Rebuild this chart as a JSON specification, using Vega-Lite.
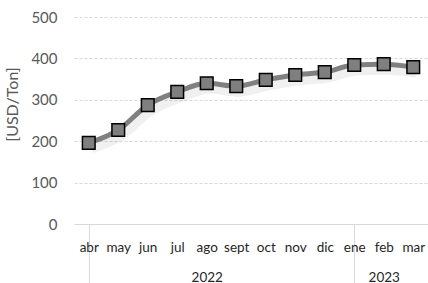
{
  "$schema": "https://vega.github.io/schema/vega-lite/v6.json",
  "width": 354,
  "height": 207,
  "autosize": {"type": "none"},
  "padding": {"left": 74, "top": 17, "right": 0, "bottom": 59},
  "background": "white",
  "config": {
    "view": {"stroke": null},
    "font": "Lato"
  },
  "data": {
    "values": [
      {"mes": "abr", "anio": "2022", "precio": 196},
      {"mes": "may", "anio": "2022", "precio": 227},
      {"mes": "jun", "anio": "2022", "precio": 287},
      {"mes": "jul", "anio": "2022", "precio": 319},
      {"mes": "ago", "anio": "2022", "precio": 340},
      {"mes": "sept", "anio": "2022", "precio": 333},
      {"mes": "oct", "anio": "2022", "precio": 348},
      {"mes": "nov", "anio": "2022", "precio": 360},
      {"mes": "dic", "anio": "2022", "precio": 367},
      {"mes": "ene", "anio": "2023", "precio": 384},
      {"mes": "feb", "anio": "2023", "precio": 386},
      {"mes": "mar", "anio": "2023", "precio": 379}
    ]
  },
  "encoding": {
    "x": {
      "field": "mes",
      "type": "nominal",
      "sort": null,
      "scale": {"paddingInner": 0, "paddingOuter": 0},
      "axis": {
        "title": null,
        "labelAngle": 0,
        "labelFont": "Lato",
        "labelFontSize": 13.5,
        "labelColor": "#262626",
        "labelOverlap": false,
        "labelLineHeight": 30,
        "labelExpr": "datum.value == 'ago' ? ['ago', '2022'] : datum.value == 'feb' ? ['feb', '2023'] : datum.value",
        "bandPosition": 0,
        "tickSize": 59,
        "tickWidth": 1,
        "tickColor": {"condition": {"test": "datum.value == 'abr' || datum.value == 'ene'", "value": "#d9d9d9"}, "value": "transparent"},
        "labelPadding": -43,
        "domainColor": "#d9d9d9",
        "domainWidth": 1,
        "grid": false
      }
    },
    "y": {
      "field": "precio",
      "type": "quantitative",
      "scale": {"domain": [0, 500], "nice": false, "zero": true},
      "axis": {
        "title": "[USD/Ton]",
        "titleFont": "Lato",
        "titleFontSize": 16,
        "titleFontWeight": "normal",
        "titleColor": "#595959",
        "titleAngle": -90,
        "titleAlign": "center",
        "titleBaseline": "middle",
        "titleX": -62,
        "titleY": 87,
        "values": [0, 100, 200, 300, 400, 500],
        "labelFont": "Lato",
        "labelFontSize": 15,
        "labelColor": "#595959",
        "labelPadding": 17,
        "ticks": false,
        "domain": false,
        "grid": true,
        "gridColor": {"condition": {"test": "datum.value == 0", "value": "transparent"}, "value": "#d9d9d9"},
        "gridDash": [3, 2],
        "gridWidth": 1
      }
    }
  },
  "layer": [
    {
      "mark": {"type": "line", "stroke": "#000000", "strokeWidth": 9, "opacity": 0.06, "xOffset": 3, "yOffset": 6, "interpolate": "monotone"}
    },
    {
      "mark": {"type": "line", "stroke": "#808080", "strokeWidth": 5, "interpolate": "monotone"}
    },
    {
      "mark": {"type": "point", "shape": "square", "size": 160, "filled": true, "fill": "#7f7f7f", "stroke": "#000000", "strokeWidth": 1.5, "opacity": 1}
    }
  ]
}
